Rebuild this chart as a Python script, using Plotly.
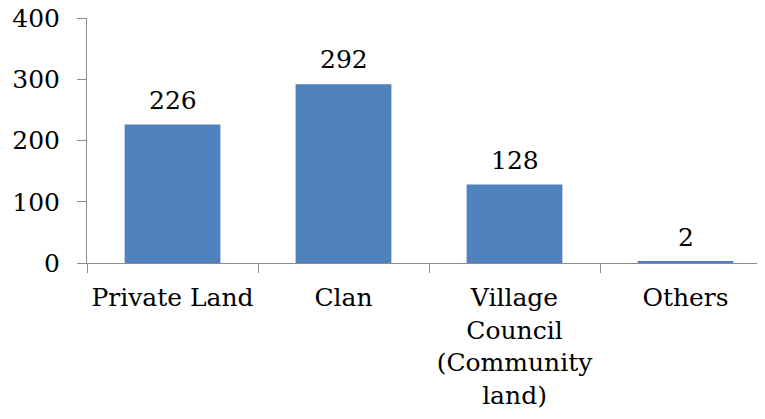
import plotly.graph_objects as go

categories = ["Private Land", "Clan", "Village<br>Council<br>(Community<br>land)", "Others"]
values = [226, 292, 128, 2]
y_ticks = [0, 100, 200, 300, 400]

FONT = "DejaVu Serif"
AXIS_COLOR = "#8c8c8c"

fig = go.Figure(
    go.Bar(
        x=categories,
        y=values,
        width=0.56,
        marker=dict(color="#4F81BD", line=dict(width=0)),
    )
)

for c, v in zip(categories, values):
    fig.add_annotation(
        x=c, y=v, text=str(v), showarrow=False,
        yanchor="bottom", yshift=8,
        font=dict(family=FONT, size=25, color="#000000"),
    )

fig.update_layout(
    width=765,
    height=419,
    margin=dict(l=79, r=2, t=10, b=164),
    paper_bgcolor="white",
    plot_bgcolor="white",
    showlegend=False,
    font=dict(family=FONT, size=25, color="#000000"),
)

fig.update_xaxes(
    type="category",
    range=[-0.5, 3.5],
    showline=True,
    linecolor=AXIS_COLOR,
    linewidth=1,
    ticks="outside",
    tickson="boundaries",
    ticklen=9,
    tickcolor=AXIS_COLOR,
    showgrid=False,
    tickangle=0,
    automargin=False,
    ticklabeloverflow="allow",
    tickfont=dict(family=FONT, size=25, color="#000000"),
    ticklabelstandoff=12,
)

fig.update_yaxes(
    range=[0, 400],
    tickvals=y_ticks,
    ticktext=[str(t) for t in y_ticks],
    showline=True,
    linecolor=AXIS_COLOR,
    linewidth=1,
    ticks="outside",
    ticklen=9,
    tickcolor=AXIS_COLOR,
    showgrid=False,
    zeroline=False,
    automargin=False,
    ticklabeloverflow="allow",
    tickfont=dict(family=FONT, size=25, color="#000000"),
    ticklabelstandoff=12,
)

fig.write_html("out.html")
